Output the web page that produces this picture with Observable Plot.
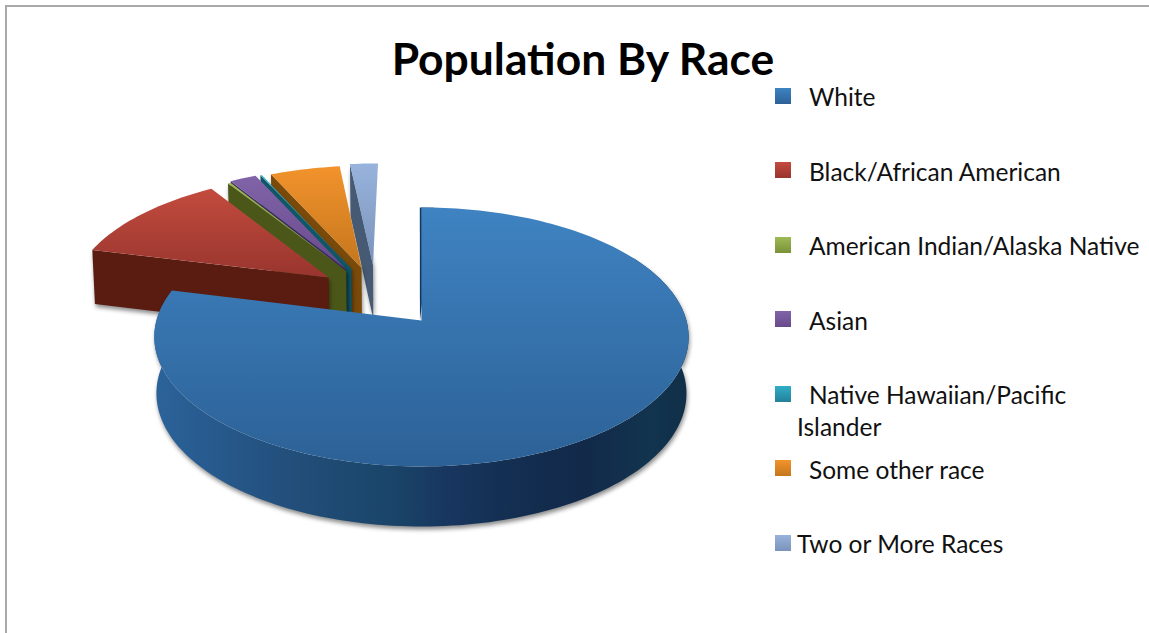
<!DOCTYPE html>
<html>
<head>
<meta charset="utf-8">
<script src="https://cdn.jsdelivr.net/npm/d3@7"></script>
<script src="https://cdn.jsdelivr.net/npm/@observablehq/plot@0.6"></script>
<style>
html,body{margin:0;padding:0;background:#fff;width:1149px;height:633px;overflow:hidden;font-family:Lato,"Open Sans",sans-serif;}
#frame{position:absolute;left:5px;top:5px;width:1200px;height:700px;border:2px solid #a9a9a9;box-sizing:border-box;}
#chart{position:absolute;left:0;top:0;}
#chart svg{display:block;background:transparent;}
#title{position:absolute;left:283px;width:600px;top:32px;text-align:center;font-weight:700;font-size:44.4px;line-height:52px;color:#000;}
.sw{position:absolute;left:775px;width:16px;height:16px;}
.lb{position:absolute;left:809px;font-size:24.5px;line-height:30px;color:#111;white-space:nowrap;}
</style>
</head>
<body>
<div id="frame"></div>
<div id="chart"></div>
<div id="title">Population By Race</div>
<div id="legend"></div>
<script>
// ---- chart values -------------------------------------------------------
const title = "Population By Race";
const categories = ["White","Black/African American","American Indian/Alaska Native","Asian","Native Hawaiian/Pacific Islander","Some other race","Two or More Races"];
const shares = [78.9, 11.9, 0.2, 1.9, 0.1, 5.0, 2.0];

// ---- styling, kept apart from the values ---------------------------------
const topStart  = ["#3f83c2","#c34b3e","#9dbb55","#8163a8","#31aec8","#f2932c","#98b3dc"];
const topEnd    = ["#2c6196","#98352e","#7b9139","#684a8c","#23809a","#c4761d","#7a93ba"];
const wallFill  = [null,"#5a1b10","#4b5719","#3e2a5e","#0f5666","#7a4a0a","#465a74"];
// how far each slice is pulled out, in pie radii
const pullX = [0.0035,-0.362,-0.295,-0.296,-0.275,-0.235,-0.19];
const pullY = [0,0.353,0.408,0.426,0.430,0.438,0.462];

const W = 1149, H = 633;
const cxPx = 420, cyPx = 320, rxPx = 265, ryPx = 127.4, persp = 0.127;
const thick = 56 / ryPx, shrinkU = 0.992, stretchV = 1.028;

// pie-plane point -> projected pie units (scales turn those into pixels)
const proj = (X, Y) => { const w = 1 + persp * Y; return {u: X / w, v: Y / w}; };
const low = (p) => ({u: p.u * shrinkU, v: p.v * stretchV - thick});

const arcs = d3.pie().sort(null).value(d => d)(shares);
const slices = arcs.map((a, i) => {
  const rim = (t) => proj(pullX[i] + Math.sin(t), pullY[i] + Math.cos(t));
  const n = Math.max(4, Math.ceil((a.endAngle - a.startAngle) * 40));
  const angles = d3.range(n + 1).map(k => a.startAngle + (a.endAngle - a.startAngle) * k / n);
  const apex = proj(pullX[i], pullY[i]);
  const rimPts = angles.map(rim);
  return {i, apex, rimPts, angles, rim, a};
});

const defs = d3.create("svg:defs");
const grad = (id, stops, horizontal) => {
  const g = defs.append("linearGradient").attr("id", id).attr("x1", 0).attr("y1", 0)
    .attr("x2", horizontal ? 1 : 0).attr("y2", horizontal ? 0 : 1);
  stops.forEach(([o, c]) => g.append("stop").attr("offset", o).attr("stop-color", c));
};
slices.forEach(s => grad("top" + s.i, [[0, topStart[s.i]], [1, topEnd[s.i]]], false));
grad("wallWhite", [[0,"#2b6399"],[0.12,"#27598c"],[0.28,"#214d78"],[0.45,"#1a4468"],[0.55,"#18365f"],[0.66,"#132f52"],[0.8,"#12294a"],[0.93,"#12344e"],[1,"#102e48"]], true);

const poly = (pts, fill, extra = {}) => Plot.line(pts, {x: "u", y: "v", fill, stroke: "none", ...extra});
const shadow = "drop-shadow(1px 3px 2px rgba(0,0,0,0.45))";

const marks = [() => defs.node()];
// back to front: last slice first, the big slice on top
[6,5,4,3,2,1].forEach(i => {
  const s = slices[i];
  const start = s.rimPts[0];
  marks.push(poly([s.apex, start, low(start), low(s.apex)], wallFill[i], {imageFilter: shadow}));
  marks.push(poly([s.apex, ...s.rimPts], `url(#top${i})`));
});
// the big slice: outer wall, dark cut edge, then the top
const big = slices[0];
const wallAngles = big.angles.filter(t => t > 1.0);
const wallTop = wallAngles.map(big.rim);
marks.push(poly([...wallTop, ...wallTop.map(low).reverse()], "url(#wallWhite)", {imageFilter: shadow}));
marks.push(poly([big.apex, big.rim(0.06), big.rim(0)], "#12375f", {dx: -1.5}));
marks.push(poly([big.apex, ...big.rimPts], "url(#top0)"));

const plot = Plot.plot({
  width: W, height: H, margin: 0,
  x: {domain: [-cxPx / rxPx, (W - cxPx) / rxPx], range: [0, W], axis: null},
  y: {domain: [(cyPx - H) / ryPx, cyPx / ryPx], range: [H, 0], axis: null},
  marks
});
document.getElementById("chart").append(plot);

// ---- legend --------------------------------------------------------------
const swTop = [88,162,237,311,386,460,535];
const labelLines = [["White"],["Black/African American"],["American Indian/Alaska Native"],["Asian"],["Native Hawaiian/Pacific","Islander"],["Some other race"],["Two or More Races"]];
const lg = document.getElementById("legend");
categories.forEach((c, i) => {
  const sw = document.createElement("div");
  sw.className = "sw"; sw.style.top = swTop[i] + "px";
  sw.style.background = `linear-gradient(${topStart[i]},${topEnd[i]})`;
  lg.append(sw);
  labelLines[i].forEach((t, k) => {
    const d = document.createElement("div");
    d.className = "lb"; d.textContent = t;
    d.style.top = (swTop[i] - 6 + (i === 1 || i === 3 || i === 5 ? 1 : 0) + k * 32) + "px";
    if (k > 0 || i === 6) d.style.left = "797px";
    lg.append(d);
  });
});
</script>
</body>
</html>
